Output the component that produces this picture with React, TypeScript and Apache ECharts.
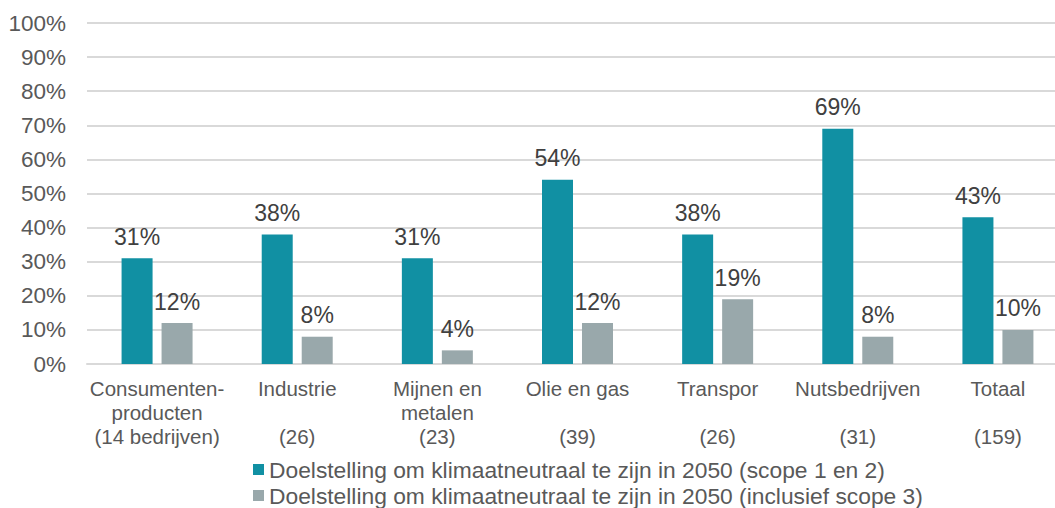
import React, { useEffect, useRef } from "react";
import * as echarts from "echarts";

const categories = [
  "Consumenten-\nproducten\n(14 bedrijven)",
  "Industrie\n\n(26)",
  "Mijnen en\nmetalen\n(23)",
  "Olie en gas\n\n(39)",
  "Transpor\n\n(26)",
  "Nutsbedrijven\n\n(31)",
  "Totaal\n\n(159)",
];
const seriesNames = [
  "Doelstelling om klimaatneutraal te zijn in 2050 (scope 1 en 2)",
  "Doelstelling om klimaatneutraal te zijn in 2050 (inclusief scope 3)",
];
const scope12 = [31, 38, 31, 54, 38, 69, 43];
const scope3 = [12, 8, 4, 12, 19, 8, 10];

const FONT = "'Liberation Sans', Arial, sans-serif";

export default function App() {
  const ref = useRef<HTMLDivElement>(null);
  useEffect(() => {
    if (!ref.current) return;
    const chart = echarts.init(ref.current, undefined, { renderer: "svg" });
    const label = {
      show: true,
      position: "top",
      distance: 10,
      formatter: "{c}%",
      color: "#404040",
      fontSize: 23,
      fontFamily: FONT,
    };
    const legendBase = {
      orient: "horizontal",
      left: 248,
      itemWidth: 11,
      itemHeight: 11,
      icon: "rect",
      textStyle: { color: "#595959", fontSize: 22.8, fontFamily: FONT },
    };
    chart.setOption({
      animation: false,
      textStyle: { fontFamily: FONT },
      grid: { left: 87, right: 0, top: 23, bottom: 144, containLabel: false },
      legend: [
        { ...legendBase, top: 453, data: [seriesNames[0]] },
        { ...legendBase, top: 479, data: [seriesNames[1]] },
      ],
      xAxis: {
        type: "category",
        data: categories,
        axisLine: { show: true, lineStyle: { color: "#d9d9d9", width: 2 } },
        axisTick: { show: false },
        axisLabel: {
          color: "#595959",
          fontSize: 20.5,
          lineHeight: 24,
          margin: 12,
          interval: 0,
          fontFamily: FONT,
        },
      },
      yAxis: {
        type: "value",
        min: 0,
        max: 100,
        interval: 10,
        axisLine: { show: false },
        axisTick: { show: false },
        axisLabel: {
          formatter: "{value}%",
          color: "#595959",
          fontSize: 22.5,
          margin: 21,
          fontFamily: FONT,
        },
        splitLine: { lineStyle: { color: "#d9d9d9", width: 2 } },
      },
      series: [
        {
          name: seriesNames[0],
          type: "bar",
          data: scope12,
          barWidth: 31,
          barGap: "29%",
          itemStyle: { color: "#1190A3" },
          label,
        },
        {
          name: seriesNames[1],
          type: "bar",
          data: scope3,
          barWidth: 31,
          barGap: "29%",
          itemStyle: { color: "#99A8AB" },
          label,
        },
      ],
    });
    return () => chart.dispose();
  }, []);
  return (
    <div style={{ width: 1055, height: 508, position: "absolute", left: 0, top: 0, overflow: "hidden" }}>
      <div ref={ref} style={{ width: 1068, height: 508 }} />
    </div>
  );
}
